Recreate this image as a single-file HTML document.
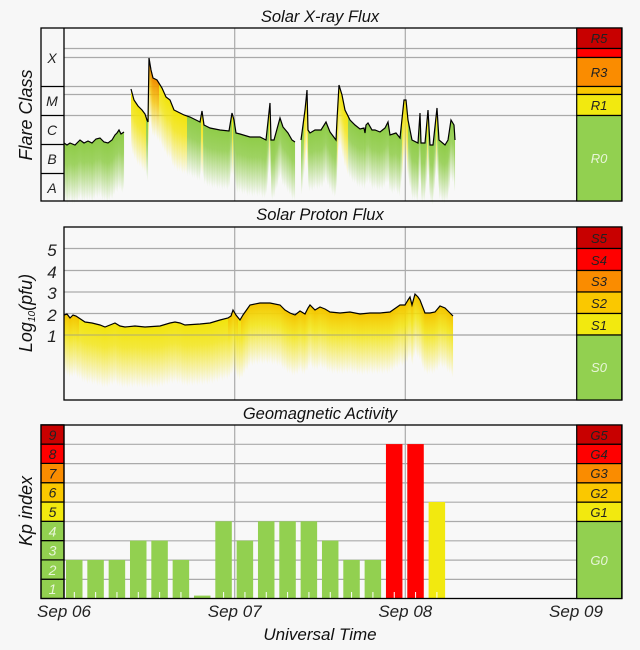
<!DOCTYPE html>
<html><head><meta charset="utf-8">
<style>
html,body{margin:0;padding:0;background:#f7f7f7;}
svg{display:block;font-family:"Liberation Sans",sans-serif;}
</style></head><body>
<svg id="s" width="640" height="650" viewBox="0 0 640 650" xmlns="http://www.w3.org/2000/svg">
<defs>
<linearGradient id="gG" x1="0" y1="0" x2="0" y2="1"><stop offset="0" stop-color="#8fcc48"/><stop offset="0.35" stop-color="#8fcc48" stop-opacity="0.85"/><stop offset="1" stop-color="#8fcc48" stop-opacity="0"/></linearGradient>
<linearGradient id="gY" x1="0" y1="0" x2="0" y2="1"><stop offset="0" stop-color="#f2e40c"/><stop offset="0.35" stop-color="#f2e40c" stop-opacity="0.8"/><stop offset="1" stop-color="#f2e40c" stop-opacity="0"/></linearGradient>
<linearGradient id="gO" x1="0" y1="0" x2="0" y2="1"><stop offset="0" stop-color="#f08c00"/><stop offset="0.4" stop-color="#f5c000" stop-opacity="0.8"/><stop offset="1" stop-color="#f2e40c" stop-opacity="0"/></linearGradient>
<linearGradient id="gP" x1="0" y1="0" x2="0" y2="1"><stop offset="0" stop-color="#f5c400"/><stop offset="0.35" stop-color="#f2e40c" stop-opacity="0.85"/><stop offset="1" stop-color="#f2e40c" stop-opacity="0"/></linearGradient>
</defs>
<g font-style="italic" font-size="16.5" fill="#111" text-anchor="middle">
<text x="320" y="22">Solar X-ray Flux</text>
<text x="320" y="220">Solar Proton Flux</text>
<text x="320" y="419">Geomagnetic Activity</text>
<text x="320" y="640" font-size="17">Universal Time</text>
<text transform="translate(32,115) rotate(-90)" font-size="18">Flare Class</text>
<text transform="translate(32,313) rotate(-90)" font-size="18">Log<tspan font-size="10" dy="3">10</tspan><tspan dy="-3">(pfu)</tspan></text>
<text transform="translate(32,511) rotate(-90)" font-size="18">Kp index</text>
</g>
<!-- panel 1 -->
<rect x="64" y="28" width="512" height="173" fill="#f8f8f8"/>
<g stroke="#aaa" stroke-width="1.2">
<line x1="64" y1="48.5" x2="576" y2="48.5"/><line x1="64" y1="57.5" x2="576" y2="57.5"/>
<line x1="64" y1="86.5" x2="576" y2="86.5"/><line x1="64" y1="94.5" x2="576" y2="94.5"/>
<line x1="64" y1="115.5" x2="576" y2="115.5"/>
<line x1="234.7" y1="28" x2="234.7" y2="201"/><line x1="405.3" y1="28" x2="405.3" y2="201"/>
</g>
<g id="xr"></g>
<g stroke="#000" stroke-width="1.3" fill="none">
<rect x="41" y="28" width="581" height="173"/>
<line x1="64" y1="28" x2="64" y2="201"/>
<line x1="41" y1="86.5" x2="64" y2="86.5"/><line x1="41" y1="115.5" x2="64" y2="115.5"/>
<line x1="41" y1="144.5" x2="64" y2="144.5"/><line x1="41" y1="173.5" x2="64" y2="173.5"/>
</g>
<g font-style="italic" font-size="14" fill="#222" text-anchor="middle">
<text x="52" y="63">X</text><text x="52" y="106">M</text><text x="52" y="135">C</text><text x="52" y="164">B</text><text x="52" y="193">A</text>
</g>
<g stroke="#000" stroke-width="1.2">
<rect x="576.7" y="28" width="45" height="20.5" fill="#c80000"/>
<rect x="576.7" y="48.5" width="45" height="9" fill="#ff0000"/>
<rect x="576.7" y="57.5" width="45" height="29" fill="#fa8c00"/>
<rect x="576.7" y="86.5" width="45" height="8" fill="#fac800"/>
<rect x="576.7" y="94.5" width="45" height="21" fill="#f2e90f"/>
<rect x="576.7" y="115.5" width="45" height="85.5" fill="#92d050"/>
</g>
<g font-style="italic" font-size="13" fill="#222" text-anchor="middle">
<text x="599" y="43">R5</text><text x="599" y="77">R3</text><text x="599" y="110">R1</text><text x="599" y="163" fill="#e8f5d8">R0</text>
</g>
<!-- panel 2 -->
<rect x="64" y="227" width="512" height="173" fill="#f8f8f8"/>
<g stroke="#aaa" stroke-width="1.2">
<line x1="64" y1="248.5" x2="576" y2="248.5"/><line x1="64" y1="270.5" x2="576" y2="270.5"/>
<line x1="64" y1="292" x2="576" y2="292"/><line x1="64" y1="313.5" x2="576" y2="313.5"/>
<line x1="64" y1="335" x2="576" y2="335"/>
<line x1="234.7" y1="227" x2="234.7" y2="400"/><line x1="405.3" y1="227" x2="405.3" y2="400"/>
</g>
<g id="pr"></g>
<line x1="64" y1="335" x2="576" y2="335" stroke="#999" stroke-width="1" opacity="0.7"/>
<rect x="64" y="227" width="558" height="173" fill="none" stroke="#000" stroke-width="1.3"/>
<g font-style="italic" font-size="17" fill="#222" text-anchor="middle">
<text x="52" y="256">5</text><text x="52" y="278">4</text><text x="52" y="299">3</text><text x="52" y="321">2</text><text x="52" y="342">1</text>
</g>
<g stroke="#000" stroke-width="1.2">
<rect x="576.7" y="227" width="45" height="21.5" fill="#c80000"/>
<rect x="576.7" y="248.5" width="45" height="22" fill="#ff0000"/>
<rect x="576.7" y="270.5" width="45" height="21.5" fill="#fa8c00"/>
<rect x="576.7" y="292" width="45" height="21.5" fill="#fac800"/>
<rect x="576.7" y="313.5" width="45" height="21.5" fill="#f2e90f"/>
<rect x="576.7" y="335" width="45" height="65" fill="#92d050"/>
</g>
<g font-style="italic" font-size="13" fill="#222" text-anchor="middle">
<text x="599" y="243">S5</text><text x="599" y="265">S4</text><text x="599" y="286">S3</text><text x="599" y="308">S2</text><text x="599" y="330">S1</text><text x="599" y="372" fill="#e8f5d8">S0</text>
</g>
<!-- panel 3 -->
<rect x="64" y="425" width="512" height="173.5" fill="#f8f8f8"/>
<g stroke="#aaa" stroke-width="1.2" id="kg">
<line x1="234.7" y1="425" x2="234.7" y2="598.5"/><line x1="405.3" y1="425" x2="405.3" y2="598.5"/>
</g>
<g id="kp"></g>
<g id="kl"></g>
<rect x="41" y="425" width="581" height="173.5" fill="none" stroke="#000" stroke-width="1.3"/>
<line x1="64" y1="425" x2="64" y2="598.5" stroke="#000" stroke-width="1.3"/>
<g stroke="#000" stroke-width="1.2">
<rect x="576.7" y="425" width="45" height="19.3" fill="#c80000"/>
<rect x="576.7" y="444.3" width="45" height="19.3" fill="#ff0000"/>
<rect x="576.7" y="463.6" width="45" height="19.3" fill="#fa8c00"/>
<rect x="576.7" y="482.9" width="45" height="19.3" fill="#fac800"/>
<rect x="576.7" y="502.2" width="45" height="19.3" fill="#f2e90f"/>
<rect x="576.7" y="521.5" width="45" height="77" fill="#92d050"/>
</g>
<g font-style="italic" font-size="13" fill="#222" text-anchor="middle">
<text x="599" y="440">G5</text><text x="599" y="459">G4</text><text x="599" y="478">G3</text><text x="599" y="498">G2</text><text x="599" y="517">G1</text><text x="599" y="565" fill="#e8f5d8">G0</text>
</g>
<g font-style="italic" font-size="17" fill="#222" text-anchor="middle">
<text x="64" y="617">Sep 06</text><text x="234.7" y="617">Sep 07</text><text x="405.3" y="617">Sep 08</text><text x="576" y="617">Sep 09</text>
</g>
</svg>
<script>
var NS="http://www.w3.org/2000/svg";
function el(t,a,p){var e=document.createElementNS(NS,t);for(var k in a)e.setAttribute(k,a[k]);p.appendChild(e);return e;}
function interp(pts,x){for(var i=0;i<pts.length-1;i++){if(x>=pts[i][0]&&x<=pts[i+1][0]){var t=(x-pts[i][0])/((pts[i+1][0]-pts[i][0])||1);return pts[i][1]+t*(pts[i+1][1]-pts[i][1]);}}return null;}
function draw(g,segs,h,colf){
 segs.forEach(function(pts){
  var x0=Math.ceil(pts[0][0]),x1=Math.floor(pts[pts.length-1][0]);
  for(var x=x0;x<=x1;x++){var y=interp(pts,x+0.5);if(y==null)continue;
   el("rect",{x:x,y:y,width:1.05,height:h+((x*37)%5)-2,fill:colf(y,x)},g);}
  el("polyline",{points:pts.map(function(p){return p.join(",")}).join(" "),fill:"none",stroke:"#000","stroke-width":"1.2"},g);
 });
}
var xs=[
[[64,143],[67,145],[70,143],[75,145],[80,140],[84,143],[88,141],[92,143],[96,139],[100,138],[104,142],[108,143],[112,140],[115,135],[117,133],[119,130],[121,134],[124,132]],
[[131,89],[134,100],[138,106],[142,110],[145,114],[147,120],[148,122],[149,58],[151,70],[153,78],[157,80],[162,88],[166,97],[170,100],[174,110],[178,112],[184,115],[190,117],[196,120],[200,122],[202,111],[204,125],[210,128],[220,130],[229,131],[232,113],[234,120],[236,133],[240,134],[250,137],[260,137],[266,140],[270,103],[271,140],[274,140],[280,118],[283,127],[288,133],[292,140],[295,142]],
[[301,140],[305,110],[307,90],[308,130],[310,133],[315,130],[321,130],[326,122],[330,132],[336,140],[337,120],[339,85],[342,95],[345,110],[350,120],[355,125],[360,129],[364,128],[365,133],[366,125],[368,123],[372,130],[375,130],[380,132],[385,128],[388,122],[390,135],[396,133],[400,138],[404,100],[406,100],[408,120],[412,140],[418,143],[420,113],[421,143],[425,143],[428,110],[430,145],[433,145],[437,108],[439,140],[445,145],[448,140],[451,120],[454,125],[455,140]]
];
draw(document.getElementById("xr"),xs,58,function(y,x){return y<84&&x<200?"url(#gO)":(y<116?"url(#gY)":"url(#gG)");});
var ps=[[[64,315],[67,314],[70,318],[73,315],[76,316],[85,322],[92,323],[100,325],[105,327],[115,323],[120,326],[125,327],[135,326],[145,327],[160,326],[170,323],[175,322],[180,323],[185,325],[200,324],[210,323],[220,320],[228,318],[231,316],[233,310],[236,315],[240,320],[243,315],[250,305],[260,303],[270,303],[280,305],[285,310],[290,313],[295,315],[300,311],[305,314],[308,308],[310,305],[315,310],[320,307],[325,309],[330,312],[340,313],[350,312],[360,314],[370,313],[380,313],[390,312],[400,305],[405,305],[408,300],[410,297],[412,305],[415,294],[418,297],[420,300],[425,313],[430,313],[435,312],[440,306],[445,308],[450,313],[453,316]]];
draw(document.getElementById("pr"),ps,60,function(y){return y<318?"url(#gP)":"url(#gY)";});
var kg=document.getElementById("kg");
[444.3,463.6,482.9,502.2,521.5,540.8,560.1,579.4].forEach(function(y){el("line",{x1:64,y1:y,x2:576,y2:y},kg);});
var kp=[2,2,2,3,3,2,0.15,4,3,4,4,4,3,2,2,8,8,5];
var g=document.getElementById("kp");
kp.forEach(function(v,i){var x=66+i*21.33,h=v*19.3;var c=v>=8?"#ff0000":(v>=5?"#f2e90f":"#92d050");
 el("rect",{x:x,y:598.5-h,width:16.5,height:h,fill:c},g);
 if(v>1)el("line",{x1:x+8.3,y1:598.5,x2:x+8.3,y2:592,stroke:"#fff","stroke-width":1},g);});
var kl=document.getElementById("kl");
var cols=["#92d050","#92d050","#92d050","#92d050","#f2e90f","#fac800","#fa8c00","#ff0000","#c80000"];
for(var k=1;k<=9;k++){var y=598.5-k*19.3;el("rect",{x:41,y:y,width:23,height:19.3,fill:cols[k-1],stroke:"#000","stroke-width":1.2},kl);
 var t=el("text",{x:52.5,y:y+15,"text-anchor":"middle","font-size":14,"font-style":"italic",fill:k<=4?"#e8f5d8":"#222"},kl);t.textContent=k;}
</script>
</body></html>
